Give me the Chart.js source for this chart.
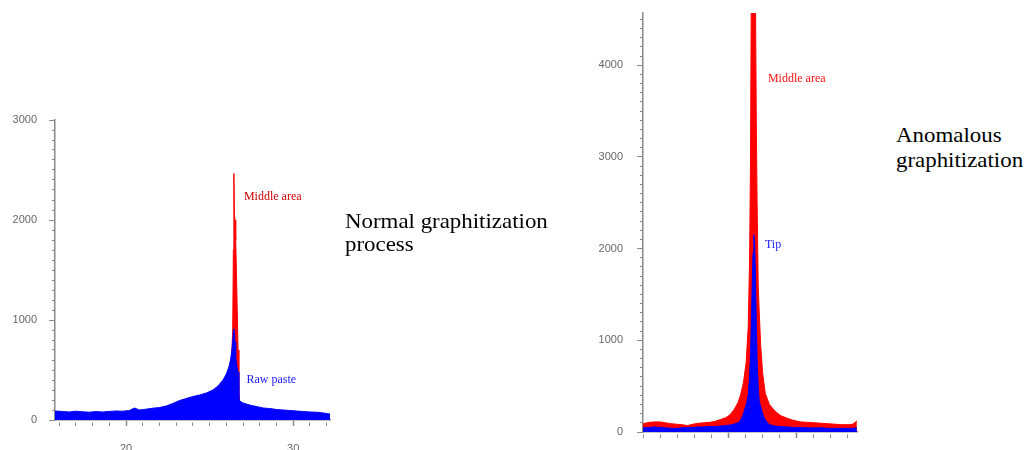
<!DOCTYPE html>
<html>
<head>
<meta charset="utf-8">
<script src="https://cdn.jsdelivr.net/npm/chart.js@4.4.1/dist/chart.umd.min.js"></script>
<style>
  html, body { margin: 0; padding: 0; background: #fff; }
  body { width: 1024px; height: 450px; position: relative; overflow: hidden; }
  .box { position: absolute; }
  .note { position: absolute; font-family: "Liberation Serif", serif; font-size: 21px; color: #000;
          white-space: nowrap; transform: scaleX(1.09); transform-origin: 0 0; }
</style>
</head>
<body>
<div class="box" style="left:5px;top:100px;width:345px;height:350px"><canvas id="left"></canvas></div>
<div class="box" style="left:593px;top:-9px;width:284px;height:463px"><canvas id="right"></canvas></div>
<div class="note" style="left:345px;top:210px;line-height:23px">Normal graphitization<br>process</div>
<div class="note" style="left:896px;top:123px;line-height:25px">Anomalous<br>graphitization</div>
<script>
// 2-theta positions and intensities
const leftX = [15.75, 16.2, 16.6, 17.0, 17.4, 17.8, 18.2, 18.6, 19.0, 19.4,
  19.8, 20.2, 20.5, 20.8, 21.2, 21.6, 22.0, 22.4, 22.8, 23.2,
  23.6, 24.0, 24.4, 24.8, 25.2, 25.5, 25.8, 26.0, 26.15, 26.25,
  26.32, 26.38, 26.42, 26.45, 26.48, 26.52, 26.56, 26.6, 26.65, 26.7,
  26.75, 26.8, 26.9, 27.0, 27.2, 27.5, 27.8, 28.2, 28.6, 29.0,
  29.4, 29.8, 30.2, 30.6, 31.0, 31.4, 31.8, 32.2];
const leftRaw = [90, 85, 80, 88, 82, 78, 84, 80, 86, 90,
  88, 95, 120, 100, 108, 118, 125, 140, 165, 195,
  215, 235, 250, 270, 300, 340, 400, 460, 530, 600,
  680, 780, 880, 910, 870, 780, 650, 560, 520, 480,
  220, 190, 180, 170, 160, 145, 135, 120, 115, 105,
  100, 95, 90, 85, 80, 78, 70, 60];
const leftMiddle = [70, 65, 60, 68, 62, 58, 64, 60, 66, 70,
  68, 75, 100, 80, 88, 98, 105, 120, 145, 175,
  195, 215, 230, 250, 280, 320, 380, 440, 510, 580,
  650, 900, 1700, 2465, 2050, 2000, 1800, 1500, 1100, 700,
  300, 170, 160, 150, 140, 125, 115, 100, 95, 85,
  80, 75, 70, 65, 60, 58, 50, 40];

const rightX = [18.75, 19.2, 19.6, 20.0, 20.4, 20.8, 21.2, 21.6, 22.0, 22.4,
  22.8, 23.2, 23.6, 24.0, 24.4, 24.8, 25.1, 25.4, 25.7, 25.9,
  26.1, 26.3, 26.45, 26.55, 26.62, 26.68, 26.74, 26.8, 26.86, 26.92,
  26.98, 27.04, 27.1, 27.18, 27.26, 27.36, 27.5, 27.7, 28.0, 28.4,
  28.8, 29.3, 29.8, 30.3, 30.8, 31.3, 31.8, 32.3, 32.8, 33.3,
  33.8, 34.1, 34.4];
const rightMiddle = [90, 105, 110, 110, 100, 90, 85, 80, 70, 85,
  95, 100, 105, 115, 135, 155, 185, 240, 320, 410,
  540, 760, 1150, 1900, 3000, 5000, 5300, 5300, 5300, 5300,
  4800, 3400, 2500, 1600, 1300, 950, 650, 420, 300, 230,
  180, 150, 125, 110, 105, 100, 95, 90, 85, 80,
  80, 85, 120];
const rightTip = [45, 50, 55, 50, 45, 40, 40, 45, 50, 50,
  55, 55, 60, 60, 65, 70, 75, 85, 100, 130,
  200, 300, 400, 600, 850, 1200, 1600, 1950, 2150, 2050,
  1700, 1200, 800, 500, 330, 280, 200, 130, 80, 65,
  60, 55, 50, 50, 45, 45, 45, 40, 40, 40,
  40, 40, 45];

const leftLabels = ['20', '30'];
const yMajor = 1000;

const BLUE = '#0000ff';
const RED = '#ff0000';
const AXIS = '#8a8a8a';

function pts(xs, ys) {
  return xs.map((x, i) => ({ x: x, y: ys[i] }));
}

function series(label, xs, ys, color, order) {
  return {
    label: label,
    data: pts(xs, ys),
    borderColor: color,
    backgroundColor: color,
    borderWidth: 1,
    pointRadius: 0,
    tension: 0,
    fill: 'origin',
    order: order
  };
}

// small text next to the peaks, placed in data units
function peakLabels(items) {
  return {
    id: 'peakLabels',
    afterDatasetsDraw(chart) {
      const { ctx, scales } = chart;
      ctx.save();
      ctx.font = '12px "Liberation Serif", serif';
      ctx.textBaseline = 'middle';
      items.forEach(it => {
        ctx.fillStyle = it.color;
        ctx.fillText(it.text, scales.x.getPixelForValue(it.x), scales.y.getPixelForValue(it.y));
      });
      ctx.restore();
    }
  };
}

// minor ticks are drawn shorter by dashing away their outer part
const minorDash = [0, 3, 20];

function yAxis(max, width, pad) {
  return {
    min: 0,
    max: max,
    afterFit: s => { s.width = width; },
    border: { color: AXIS, width: 1.5 },
    grid: {
      drawOnChartArea: false,
      tickLength: 6,
      tickColor: AXIS,
      tickBorderDash: ctx => (ctx.tick && ctx.tick.value % yMajor === 0 ? [] : minorDash)
    },
    ticks: {
      stepSize: 100,
      autoSkip: false,
      includeBounds: false,
      maxRotation: 0,
      padding: pad,
      color: '#666',
      font: { family: 'Liberation Sans', size: 11 },
      callback: v => (v % yMajor === 0 ? String(v) : '')
    }
  };
}

function xAxis(min, max, step, height, isMajor, label) {
  return {
    type: 'linear',
    min: min,
    max: max,
    afterFit: s => { s.height = height; },
    border: { color: AXIS, width: 1.5 },
    grid: {
      drawOnChartArea: false,
      tickLength: 6,
      tickColor: AXIS,
      tickWidth: ctx => (ctx.tick && isMajor(ctx.tick.value) ? 1.5 : 1),
      tickBorderDash: ctx => (ctx.tick && isMajor(ctx.tick.value) ? [] : [0, 2, 20])
    },
    ticks: {
      stepSize: step,
      autoSkip: false,
      includeBounds: false,
      maxRotation: 0,
      padding: 16,
      color: '#666',
      font: { family: 'Liberation Sans', size: 11 },
      callback: label
    }
  };
}

const baseOptions = {
  responsive: true,
  maintainAspectRatio: false,
  animation: false,
  plugins: { legend: { display: false }, tooltip: { enabled: false } }
};

new Chart(document.getElementById('left'), {
  type: 'line',
  data: {
    datasets: [
      series('Raw paste', leftX, leftRaw, BLUE, 0),
      series('Middle area', leftX, leftMiddle, RED, 1)
    ]
  },
  options: {
    ...baseOptions,
    layout: { padding: { top: 20, right: 20, left: 0, bottom: 0 } },
    scales: {
      x: xAxis(15.75, 32.2, 1, 30,
        v => leftLabels.includes(String(v)),
        v => (leftLabels.includes(String(v)) ? String(v) : '')),
      y: yAxis(3000, 50, 12)
    }
  },
  plugins: [peakLabels([
    { text: 'Middle area', x: 27.05, y: 2230, color: '#cc0000' },
    { text: 'Raw paste', x: 27.2, y: 400, color: '#2020ff' }
  ])]
});

new Chart(document.getElementById('right'), {
  type: 'line',
  data: {
    datasets: [
      series('Tip', rightX, rightTip, BLUE, 0),
      series('Middle area', rightX, rightMiddle, RED, 1)
    ]
  },
  options: {
    ...baseOptions,
    layout: { padding: { top: 22, right: 20, left: 0, bottom: 0 } },
    scales: {
      x: xAxis(18.75, 34.41, 1.25, 22,
        v => v === 25 || v === 30,
        () => ''),
      y: yAxis(4570, 50, 14)
    }
  },
  plugins: [peakLabels([
    { text: 'Middle area', x: 27.89, y: 3850, color: '#ff1010' },
    { text: 'Tip', x: 27.67, y: 2040, color: '#2020ff' }
  ])]
});
</script>
</body>
</html>
